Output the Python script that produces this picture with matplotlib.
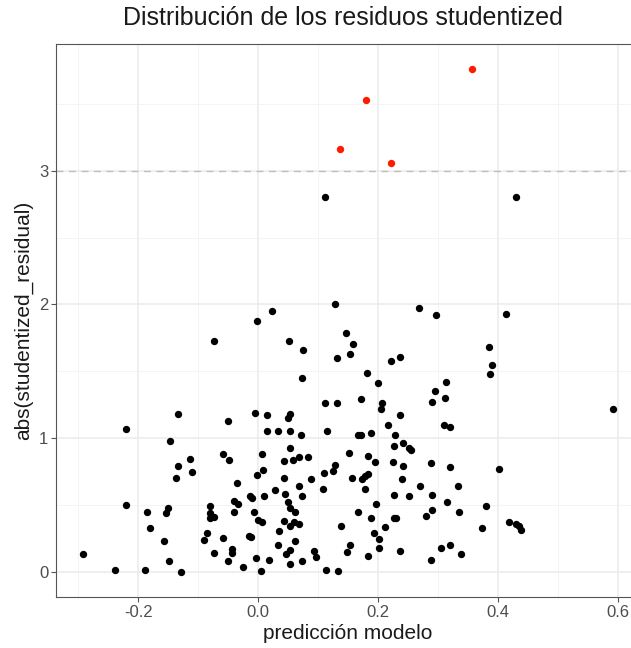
import matplotlib
matplotlib.use("Agg")
import matplotlib.pyplot as plt
import numpy as np

plt.rcParams['font.family'] = ['Liberation Sans', 'DejaVu Sans']

# Outliers (|studentized residual| > 3)
red_x = [0.357, 0.180, 0.137, 0.222]
red_y = [3.76, 3.53, 3.16, 3.06]

# Remaining observations
pred_x = [
    0.112, 0.431,
    -0.074, -0.134, -0.050, -0.221, -0.147, -0.059, -0.049, -0.114, -0.134, -0.110,
    -0.137, -0.035, -0.041, -0.034, -0.041, -0.221, -0.185, -0.151, -0.153, -0.080,
    -0.080, -0.080, -0.074, -0.181, -0.085, -0.091, -0.157, -0.058, -0.016, -0.012,
    -0.044, -0.043, -0.073, -0.051, -0.025, -0.293, -0.148, -0.239, -0.188, -0.129,
    0.297, 0.413, 0.386, 0.390, 0.387, 0.314, 0.295, 0.312, 0.291, 0.310,
    0.321, 0.593, 0.288, 0.321, 0.402, 0.333, 0.291, 0.316, 0.291, 0.335,
    0.380, 0.418, 0.430, 0.435, 0.439, 0.373, 0.305, 0.320, 0.338, 0.288,
    -0.0025, 0.024, 0.128, 0.051, 0.075, 0.132, 0.074, -0.005, 0.015, 0.054,
    0.050, 0.111, 0.132, 0.015, 0.034, 0.054, 0.071, 0.115,
    0.268, 0.146, 0.158, 0.154, 0.221, 0.236, 0.181, 0.200, 0.172, 0.206,
    0.205, 0.237, 0.216, 0.166, 0.171, 0.189, 0.228,
    0.054, 0.006, 0.043, 0.058, 0.068, 0.083, 0.0075, -0.0025, 0.043, 0.088,
    0.110, 0.125, 0.128, 0.069, 0.073, 0.109, 0.029, 0.045, -0.013, -0.010,
    0.0097, 0.050, 0.054, 0.061, -0.0075, -0.001, 0.007, 0.044, 0.053, 0.060,
    0.069, 0.035, 0.138, 0.061, 0.034, 0.053, 0.046, 0.093, 0.0965, -0.003,
    0.018, 0.074, 0.054, 0.004, 0.113, 0.134,
    0.227, 0.241, 0.251, 0.255, 0.152, 0.183, 0.1945, 0.225, 0.242, 0.156,
    0.174, 0.179, 0.184, 0.178, 0.240, 0.270, 0.227, 0.251, 0.196, 0.167,
    0.188, 0.226, 0.230, 0.281, 0.212, 0.193, 0.202, 0.201, 0.153, 0.148,
    0.183, 0.236,
]
abs_resid = [
    2.80, 2.80,
    1.73, 1.18, 1.13, 1.07, 0.98, 0.88, 0.84, 0.845, 0.79, 0.75,
    0.70, 0.668, 0.53, 0.51, 0.446, 0.503, 0.449, 0.48, 0.44, 0.49,
    0.44, 0.40, 0.41, 0.33, 0.29, 0.24, 0.23, 0.25, 0.27, 0.26,
    0.17, 0.14, 0.14, 0.08, 0.04, 0.13, 0.08, 0.017, 0.017, 0.0,
    1.92, 1.93, 1.68, 1.55, 1.48, 1.42, 1.35, 1.30, 1.27, 1.10,
    1.08, 1.22, 0.815, 0.785, 0.77, 0.64, 0.576, 0.526, 0.466, 0.446,
    0.496, 0.376, 0.361, 0.346, 0.316, 0.331, 0.18, 0.20, 0.13, 0.085,
    1.88, 1.95, 2.00, 1.73, 1.66, 1.60, 1.45, 1.19, 1.17, 1.18,
    1.15, 1.26, 1.26, 1.055, 1.057, 1.057, 1.02, 1.057,
    1.97, 1.79, 1.705, 1.63, 1.58, 1.605, 1.49, 1.41, 1.29, 1.26,
    1.22, 1.17, 1.10, 1.02, 1.02, 1.04, 1.02,
    0.93, 0.885, 0.83, 0.835, 0.86, 0.86, 0.765, 0.725, 0.70, 0.695,
    0.74, 0.755, 0.80, 0.64, 0.57, 0.62, 0.61, 0.58, 0.57, 0.55,
    0.57, 0.52, 0.48, 0.45, 0.45, 0.386, 0.374, 0.378, 0.34, 0.374,
    0.36, 0.307, 0.34, 0.234, 0.204, 0.16, 0.135, 0.154, 0.11, 0.105,
    0.09, 0.08, 0.06, 0.01, 0.015, 0.005,
    0.94, 0.965, 0.93, 0.91, 0.89, 0.87, 0.82, 0.825, 0.79, 0.70,
    0.695, 0.715, 0.735, 0.62, 0.695, 0.643, 0.578, 0.565, 0.51, 0.446,
    0.40, 0.40, 0.40, 0.416, 0.334, 0.29, 0.244, 0.18, 0.204, 0.152,
    0.117, 0.154,
]

x_ticks = [-0.2, 0.0, 0.2, 0.4, 0.6]
x_tick_labels = ["-0.2", "0.0", "0.2", "0.4", "0.6"]
x_minor = [-0.3, -0.1, 0.1, 0.3, 0.5]
y_ticks = [0, 1, 2, 3]
y_minor = [0.5, 1.5, 2.5, 3.5]
threshold = 3

W, H = 631, 648
fig = plt.figure(figsize=(W / 100, H / 100), dpi=100)
ax = fig.add_axes([56 / W, (H - 597) / H, (640 - 56) / W, (597 - 44) / H])

all_x = pred_x + red_x
all_y = abs_resid + red_y
xr = max(all_x) - min(all_x)
yr = max(all_y) - min(all_y)
ax.set_xlim(min(all_x) - 0.05 * xr, max(all_x) + 0.05 * xr)
ax.set_ylim(min(all_y) - 0.05 * yr, max(all_y) + 0.05 * yr)

ax.set_xticks(x_ticks)
ax.set_xticklabels(x_tick_labels)
ax.set_xticks(x_minor, minor=True)
ax.set_yticks(y_ticks)
ax.set_yticks(y_minor, minor=True)

ax.grid(which='major', color='#EBEBEB', linewidth=1.1)
ax.grid(which='minor', color='#F2F2F2', linewidth=0.6)
ax.set_axisbelow(True)
ax.tick_params(which='minor', length=0)
ax.tick_params(which='major', length=3.5, width=0.8, color='#555555',
               labelsize=12, labelcolor='#4D4D4D', pad=2)
for s in ax.spines.values():
    s.set_color('#555555')
    s.set_linewidth(0.8)

ax.axhline(threshold, color='#BEBEBE', linestyle=(0, (5, 4)), linewidth=1.0, zorder=1.5)

ax.scatter(pred_x, abs_resid, s=28, color='black', linewidths=0, zorder=3)
ax.scatter(red_x, red_y, s=28, color='#FF1A00', linewidths=0, zorder=3)

ax.set_xlabel('predicción modelo', fontsize=15, color='#1A1A1A', labelpad=3)
ax.set_ylabel('abs(studentized_residual)', fontsize=15, color='#1A1A1A', labelpad=4)
fig.text(343 / W, 1 - 18 / H, 'Distribución de los residuos studentized',
         ha='center', va='center', fontsize=18, color='#1A1A1A')

fig.savefig('out.png', dpi=100)
